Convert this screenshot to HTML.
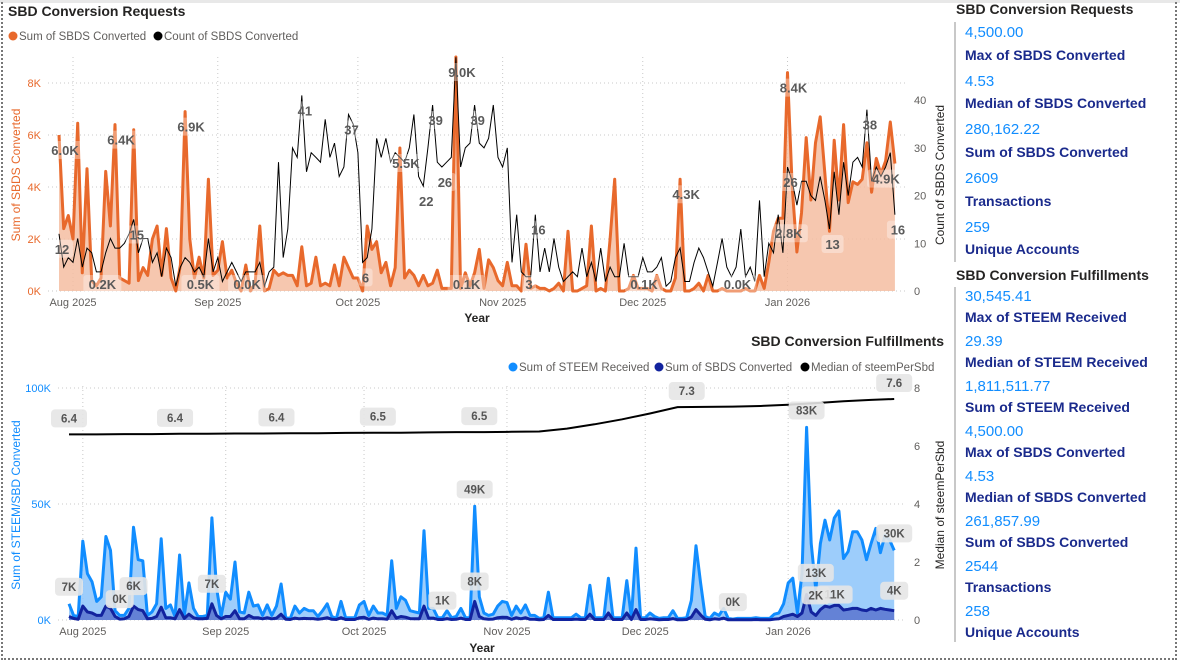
<!DOCTYPE html>
<html><head><meta charset="utf-8">
<style>
html,body{margin:0;padding:0;background:#fff;}
body{width:1180px;height:665px;position:relative;overflow:hidden;font-family:"Liberation Sans",sans-serif;}
.frame{position:absolute;left:1px;top:2px;width:1176px;height:658px;border-left:2px dotted #777;border-right:2px dotted #777;border-bottom:2px dotted #777;box-sizing:border-box;}
.topband{position:absolute;left:0;top:0;width:1180px;height:3px;background:#e8e8e8;}
.kpi-title{position:absolute;left:956px;font-size:14px;font-weight:bold;color:#252423;}
.kbar{position:absolute;left:954px;width:2px;background:#c8c8c8;}
.kv{position:absolute;left:965px;font-size:15px;color:#118dff;}
.kl{position:absolute;left:965px;font-size:14px;font-weight:bold;color:#1a2a8c;}
</style></head>
<body>
<div class="topband"></div>
<div class="frame"></div>
<svg id="chart" width="1180" height="665" style="position:absolute;left:0;top:0" font-family="Liberation Sans, sans-serif"></svg>

<div class="kpi-title" style="top:1px">SBD Conversion Requests</div>
<div class="kbar" style="top:22px;height:240px"></div>
<div class="kv" style="top:24px">4,500.00</div>
<div class="kl" style="top:47px">Max of SBDS Converted</div>
<div class="kv" style="top:73px">4.53</div>
<div class="kl" style="top:95px">Median of SBDS Converted</div>
<div class="kv" style="top:121px">280,162.22</div>
<div class="kl" style="top:144px">Sum of SBDS Converted</div>
<div class="kv" style="top:170px">2609</div>
<div class="kl" style="top:193px">Transactions</div>
<div class="kv" style="top:219px">259</div>
<div class="kl" style="top:241px">Unique Accounts</div>

<div class="kpi-title" style="top:267px">SBD Conversion Fulfillments</div>
<div class="kbar" style="top:287px;height:355px"></div>
<div class="kv" style="top:288px">30,545.41</div>
<div class="kl" style="top:309px">Max of STEEM Received</div>
<div class="kv" style="top:333px">29.39</div>
<div class="kl" style="top:354px">Median of STEEM Received</div>
<div class="kv" style="top:378px">1,811,511.77</div>
<div class="kl" style="top:399px">Sum of STEEM Received</div>
<div class="kv" style="top:423px">4,500.00</div>
<div class="kl" style="top:444px">Max of SBDS Converted</div>
<div class="kv" style="top:468px">4.53</div>
<div class="kl" style="top:489px">Median of SBDS Converted</div>
<div class="kv" style="top:513px">261,857.99</div>
<div class="kl" style="top:534px">Sum of SBDS Converted</div>
<div class="kv" style="top:558px">2544</div>
<div class="kl" style="top:579px">Transactions</div>
<div class="kv" style="top:603px">258</div>
<div class="kl" style="top:624px">Unique Accounts</div>

<script>
// ---------- data ----------
const monthLabels = ["Aug 2025","Sep 2025","Oct 2025","Nov 2025","Dec 2025","Jan 2026"];
const monthDays = [3,34,64,95,125,156];
const topSumTicks = [0,2,4,6,8];
const topCountTicks = [0,10,20,30,40];
const botLeftTicks = [0,50,100];
const botRightTicks = [0,2,4,6,8];
const reqSum = [6.0,2.4,2.9,2.0,6.45,0.7,4.7,0.4,0.2,0.5,
4.6,2.5,6.4,0.5,0.4,0.3,6.2,0.4,0.9,0.6,
2.0,2.5,0.6,2.4,0.5,0.0,1.0,6.9,2.0,0.5,
1.3,0.5,4.3,0.6,0.8,1.9,0.5,0.8,0.3,0.0,
1.0,0.0,0.3,2.5,0.0,0.1,0.8,0.6,0.7,0.6,
0.6,0.2,1.7,0.2,0.3,1.3,0.2,0.3,0.2,1.0,
0.2,1.3,0.9,0.5,0.5,0.0,2.5,1.6,1.9,0.7,
1.1,0.2,0.9,5.5,0.5,0.8,0.6,0.2,0.6,0.2,
0.3,0.8,0.1,0.1,0.1,9.0,0.1,0.7,0.2,0.7,
1.6,0.1,1.2,0.9,0.4,0.2,1.1,0.2,0.2,0.0,
1.8,0.1,0.2,0.1,0.1,0.0,0.1,0.3,0.0,2.3,
0.0,0.0,0.1,0.2,2.5,0.0,0.1,0.0,2.0,4.3,
0.0,0.0,0.1,0.6,0.1,0.1,0.1,0.0,0.6,0.1,
0.0,0.0,0.5,4.3,0.0,0.0,0.1,0.3,0.0,0.6,
0.0,0.0,0.1,0.0,0.0,0.0,0.0,0.1,0.0,0.0,
0.6,0.1,1.1,2.3,2.8,2.8,8.4,4.0,1.5,3.0,
5.9,3.5,5.7,6.7,4.5,2.3,5.8,3.5,6.4,3.4,
4.2,4.1,4.3,5.7,3.8,5.1,4.5,5.0,6.5,4.9];
const reqCount = [12,5,7,6,11,5,9,8,4,4,
8,11,9,9,10,12,15,8,11,11,
6,8,3,9,7,1,5,7,6,4,
5,3,11,4,7,2,4,6,4,2,
4,4,4,6,1,4,5,27,7,13,
30,28,41,25,29,28,27,36,28,31,
24,26,37,35,29,6,7,13,32,28,
32,27,29,28,27,30,37,24,22,30,
39,27,26,27,28,49,26,30,31,39,
31,30,32,39,28,26,30,6,16,4,
3,3,16,4,9,4,11,5,2,3,
4,3,9,3,6,2,9,2,5,3,
3,10,3,3,3,7,4,4,5,7,
1,2,7,9,2,2,6,9,7,4,
1,6,11,5,3,5,13,3,5,2,
19,3,10,8,16,8,26,23,18,23,
23,20,19,24,19,13,25,16,27,20,
27,28,26,38,23,26,24,26,29,16];
const steemRecv = [7,2,1.5,34,20,16.5,8,10,36,30,
4,2,2,5,40,26,25.5,2,3.5,7,
35,5,6.5,1.5,28,2,16,5,1.5,1.5,
2,44,14,1.5,12,9,25,3.5,3,12,
6,6.5,2,6.5,2,6,15.5,1,0.7,6,
3,5,4,4,1.5,4,7,1.5,0.7,8,
1,1,1,6.5,8,2,6,3,3,2,
25.5,5,10,8.5,4,3.5,3,38.5,5,5,
1,1,4,1,1.5,5,1,1,49,10,
3,2,2.5,6,8,7.5,2,6,3,6.5,
2,2,0.7,1,12,1,1,1,1,1,
2.5,1,1,15,1,1,1,18,1,1,
1,17,1,31,1,1,3,1.5,0.7,1,
1,4,0.7,0.7,1,8.5,32,16,1.5,0.7,
3,2,5,0.7,0.4,0.7,0.7,0.7,0.7,1,
0.7,0.7,0.7,2.5,3,7,16,18,3,20,
83,33,13,33,43,34.5,44,47,26.5,29.5,
38,38,34.5,26,33,39.5,29,36.5,34.5,30];
const fulSbds = [1.5,0.7,0.3,6,3.5,3,2,2,6,5,
1.5,0.4,0.5,1.5,6,4.5,4,0.5,0.7,1.5,
5.5,1,1,0.5,4.5,0.7,2.5,1,0.5,0.5,
0.7,7,2,0.5,1.5,1.5,4,0.5,0.5,2,
1,1,0.5,1,0.5,0.8,2.5,0.3,0.2,0.8,
0.5,0.7,0.6,0.6,0.3,0.6,1,0.3,0.2,1,
0.2,0.2,0.2,1,1.2,0.3,0.8,0.5,0.5,0.3,
4,0.8,1.5,1.2,0.6,0.5,0.5,6,0.8,0.8,
0.2,0.2,0.6,0.2,0.3,0.8,0.2,0.2,8,1.5,
0.5,0.3,0.4,1,1.2,1.1,0.3,1,0.5,1,
0.3,0.3,0.1,0.2,2,0.2,0.2,0.2,0.2,0.2,
0.4,0.2,0.2,2.5,0.2,0.2,0.2,3,0.2,0.2,
0.2,3,0.2,4.5,0.2,0.2,0.5,0.3,0.1,0.2,
0.2,0.6,0.1,0.1,0.2,1.3,4.5,2.2,0.3,0.1,
0.5,0.3,0.8,0.1,0.1,0.1,0.1,0.1,0.1,0.2,
0.1,0.1,0.1,0.4,0.5,1.5,2,2.5,1.5,3,
11,3.5,2,4.5,6,5.5,6.3,6.3,4.3,4.6,
5,5,4.3,4,5,4.3,5,4.6,4.3,4];
const medianDays = [0,6,12,18,24,30,36,42,48,54,60,66,72,78,84,90,96,102,108,114,120,126,132,138,144,150,156,162,168,174,179];
const medianVals = [6.40,6.40,6.41,6.41,6.42,6.42,6.43,6.43,6.44,6.44,6.45,6.46,6.46,6.47,6.48,6.48,6.49,6.50,6.60,6.75,6.92,7.12,7.34,7.35,7.36,7.38,7.42,7.48,7.54,7.59,7.62];
const sumLabelDays = [0,8,12,27,29,39,73,85,86,124,133,144,155,156,179];
const countLabelDays = [0,16,52,62,65,78,80,82,89,100,102,156,165,173,179];
const steemLabelDays = [0,81,88,144,160,162,179];
const sbdsLabelDays = [11,14,31,88,160,162,179];
const medianLabelDays = [0,23,45,67,89,134,179];

// ---------- helpers ----------
const svg = document.getElementById('chart');
const NS = 'http://www.w3.org/2000/svg';
function mk(tag, attrs, parent){ const e=document.createElementNS(NS,tag); for(const k in attrs) e.setAttribute(k,attrs[k]); (parent||svg).appendChild(e); return e; }
function txt(s, attrs, parent){ const e=mk('text',attrs,parent); e.textContent=s; return e; }

const tx = d => 59 + d*4.67;
const tyS = v => 291 - v*26;
const tyC = c => 291 - c*4.77;
const bx = d => 69 + d*4.61;
const byL = v => 620 - v*2.32;
const byR = m => 620 - m*29;

// ---------- TOP CHART ----------
const gTop = mk('g',{});


let t = txt('SBD Conversion Requests',{x:8,y:16,'font-size':14,'font-weight':'bold',fill:'#252423'},gTop);
 
let lg = mk('g',{},gTop);
 
mk('circle',{cx:13,cy:36,r:4.5,fill:'#e8692c'},lg);
txt('Sum of SBDS Converted',{x:19,y:40,'font-size':11.5,fill:'#605e5c'},lg);
mk('circle',{cx:158,cy:36,r:4.5,fill:'#000'},lg);
txt('Count of SBDS Converted',{x:164,y:40,'font-size':11.5,fill:'#605e5c'},lg);

topSumTicks.forEach(v=>{
  const y=tyS(v);
  const gl=mk('line',{x1:48,x2:905,y1:y,y2:y,stroke:'#c8c8c8','stroke-dasharray':'1,3'},gTop);
   
  const tl=txt(v+'K',{x:41,y:y+4,'font-size':11,fill:'#e8692c','text-anchor':'end'},gTop);
   
});
topCountTicks.forEach(c=>{
  const tl=txt(String(c),{x:914,y:tyC(c)+4,'font-size':11,fill:'#605e5c'},gTop);
   
});
monthDays.forEach((d,i)=>{
  const x=tx(d);
  const gl=mk('line',{x1:x,x2:x,y1:57,y2:291,stroke:'#c8c8c8','stroke-dasharray':'1,3'},gTop);
   
  const tl=txt(monthLabels[i],{x:x,y:306,'font-size':11,fill:'#605e5c','text-anchor':'middle'},gTop);
   
});
t=txt('Year',{x:477,y:322,'font-size':12,'font-weight':'bold',fill:'#252423','text-anchor':'middle'},gTop);
 
t=txt('Sum of SBDS Converted',{x:0,y:0,'font-size':12,fill:'#e8692c','text-anchor':'middle',transform:'translate(20,175) rotate(-90)'},gTop);
 
t=txt('Count of SBDS Converted',{x:0,y:0,'font-size':12,fill:'#252423','text-anchor':'middle',transform:'translate(944,175) rotate(-90)'},gTop);
 

function linePts(arr, xs, ys){ return arr.map((v,i)=>xs(i).toFixed(1)+','+ys(v).toFixed(1)).join(' '); }
let pts = linePts(reqSum,tx,tyS);
let a = mk('polygon',{points:tx(0)+','+tyS(0)+' '+pts+' '+tx(reqSum.length-1)+','+tyS(0),fill:'#f4bda1','fill-opacity':0.85},gTop);
 
let l = mk('polyline',{points:pts,fill:'none',stroke:'#e8692c','stroke-width':3,'stroke-linejoin':'round'},gTop);
 
l = mk('polyline',{points:linePts(reqCount,tx,tyC),fill:'none',stroke:'#000','stroke-width':1},gTop);
 

function topLabel(text,x,y,name){
  const g=mk('g',{},gTop);
   
  const w=text.length*8+6;
  mk('rect',{x:x-w/2,y:y-9,width:w,height:18,rx:3,fill:'#fff','fill-opacity':0.35},g);
  txt(text,{x:x,y:y+5,'font-size':13,'font-weight':'bold',fill:'#5a5a5a','text-anchor':'middle'},g);
}
sumLabelDays.forEach(d=>{ topLabel(reqSum[d].toFixed(1)+'K', Math.min(tx(d)+6,886), Math.min(tyS(reqSum[d])+15,284), 'sum-data-label'); });
countLabelDays.forEach(d=>{ topLabel(String(reqCount[d]), tx(d)+3, Math.min(tyC(reqCount[d])+15,284), 'count-data-label'); });

// ---------- BOTTOM CHART ----------
const gB = mk('g',{});


t=txt('SBD Conversion Fulfillments',{x:944,y:346,'font-size':14,'font-weight':'bold',fill:'#252423','text-anchor':'end'},gB);
 
lg = mk('g',{},gB);
 
mk('circle',{cx:513,cy:367,r:4.5,fill:'#118dff'},lg);
txt('Sum of STEEM Received',{x:519,y:371,'font-size':11.5,fill:'#605e5c'},lg);
mk('circle',{cx:659,cy:367,r:4.5,fill:'#12239e'},lg);
txt('Sum of SBDS Converted',{x:665,y:371,'font-size':11.5,fill:'#605e5c'},lg);
mk('circle',{cx:805,cy:367,r:4.5,fill:'#000'},lg);
txt('Median of steemPerSbd',{x:811,y:371,'font-size':11.5,fill:'#605e5c'},lg);

botLeftTicks.forEach(v=>{
  const y=byL(v);
  const gl=mk('line',{x1:58,x2:905,y1:y,y2:y,stroke:'#c8c8c8','stroke-dasharray':'1,3'},gB);
   
  const tl=txt(v+'K',{x:51,y:y+4,'font-size':11,fill:'#118dff','text-anchor':'end'},gB);
   
});
botRightTicks.forEach(m=>{
  const tl=txt(String(m),{x:914,y:byR(m)+4,'font-size':11,fill:'#605e5c'},gB);
   
});
monthDays.forEach((d,i)=>{
  const x=bx(d);
  const gl=mk('line',{x1:x,x2:x,y1:386,y2:620,stroke:'#c8c8c8','stroke-dasharray':'1,3'},gB);
   
  const tl=txt(monthLabels[i],{x:x,y:635,'font-size':11,fill:'#605e5c','text-anchor':'middle'},gB);
   
});
t=txt('Year',{x:482,y:652,'font-size':12,'font-weight':'bold',fill:'#252423','text-anchor':'middle'},gB);
 
t=txt('Sum of STEEM/SBD Converted',{x:0,y:0,'font-size':12,fill:'#118dff','text-anchor':'middle',transform:'translate(20,505) rotate(-90)'},gB);
 
t=txt('Median of steemPerSbd',{x:0,y:0,'font-size':12,fill:'#252423','text-anchor':'middle',transform:'translate(944,505) rotate(-90)'},gB);
 

pts = linePts(steemRecv,bx,byL);
a = mk('polygon',{points:bx(0)+','+byL(0)+' '+pts+' '+bx(steemRecv.length-1)+','+byL(0),fill:'#8cc4fa','fill-opacity':0.85},gB);
 
l = mk('polyline',{points:pts,fill:'none',stroke:'#118dff','stroke-width':3,'stroke-linejoin':'round'},gB);
 
pts = linePts(fulSbds,bx,byL);
a = mk('polygon',{points:bx(0)+','+byL(0)+' '+pts+' '+bx(fulSbds.length-1)+','+byL(0),fill:'#5b74cf','fill-opacity':0.85},gB);
 
l = mk('polyline',{points:pts,fill:'none',stroke:'#12239e','stroke-width':3,'stroke-linejoin':'round'},gB);
 
l = mk('polyline',{points:medianDays.map((d,i)=>bx(d).toFixed(1)+','+byR(medianVals[i]).toFixed(1)).join(' '),fill:'none',stroke:'#000','stroke-width':2},gB);
 

const placed = [];
function botLabel(text,x,y,name){
  const w=text.length*8+12;
  for(const p of placed){
    if(Math.abs(p.x-x) < 12 && Math.abs(p.y-y) < 18){ x = x + 28; y = y + 20; }
  }
  placed.push({x:x,y:y,w:w});
  const g=mk('g',{},gB);
   
  mk('rect',{x:x-w/2,y:y-9,width:w,height:18,rx:4,fill:'#e6e6e6','fill-opacity':0.9},g);
  txt(text,{x:x,y:y+4,'font-size':11.5,'font-weight':'bold',fill:'#555','text-anchor':'middle'},g);
}
function medAt(d){ for(let i=0;i<medianDays.length-1;i++){ if(d<=medianDays[i+1]){ const f=(d-medianDays[i])/(medianDays[i+1]-medianDays[i]); return medianVals[i]+f*(medianVals[i+1]-medianVals[i]); } } return medianVals[medianVals.length-1]; }
medianLabelDays.forEach(d=>{ const m=medAt(d); botLabel(m.toFixed(1), bx(d), byR(m)-16, 'median-data-label'); });
steemLabelDays.forEach(d=>{ botLabel(Math.round(steemRecv[d])+'K', bx(d), Math.min(byL(steemRecv[d])-17,603), 'steem-data-label'); });
sbdsLabelDays.forEach(d=>{ botLabel(Math.round(fulSbds[d])+'K', bx(d), Math.min(byL(fulSbds[d])-20,613), 'sbds-data-label'); });
</script>
</body></html>
